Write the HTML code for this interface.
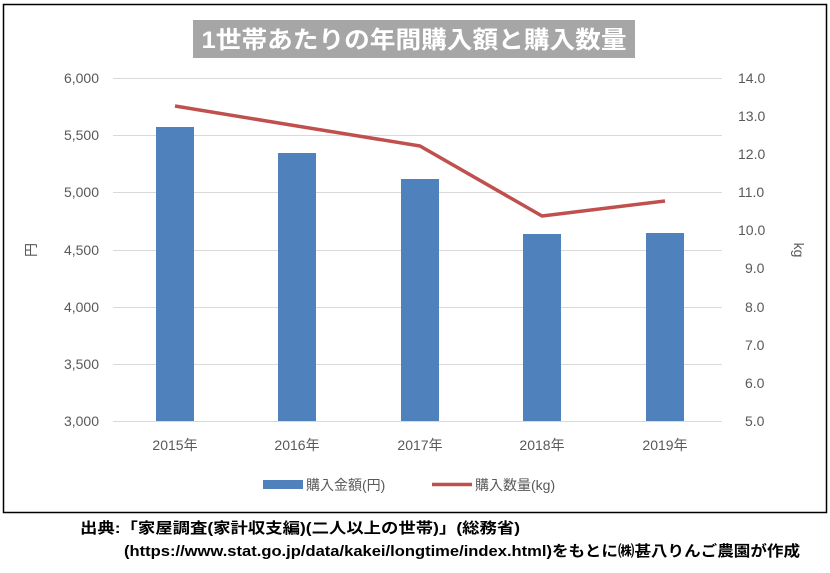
<!DOCTYPE html>
<html><head><meta charset="utf-8"><style>
body{margin:0;background:#fff;}
svg{display:block;font-family:"Liberation Sans","Noto Sans CJK JP",sans-serif;}
</style></head><body>
<svg width="830" height="573" xmlns="http://www.w3.org/2000/svg">
<rect x="3.5" y="4.5" width="823" height="508" fill="#fff" stroke="#000" stroke-width="1.5"/>
<rect x="193" y="20" width="442" height="38" fill="#a6a6a6"/>
<text x="414" y="48" text-anchor="middle" font-size="24" font-weight="bold" fill="#fff" textLength="425" lengthAdjust="spacingAndGlyphs">1世帯あたりの年間購入額と購入数量</text>
<g stroke="#d9d9d9" stroke-width="1">
<line x1="113" y1="78.5" x2="722" y2="78.5"/>
<line x1="113" y1="135.5" x2="722" y2="135.5"/>
<line x1="113" y1="192.5" x2="722" y2="192.5"/>
<line x1="113" y1="250.5" x2="722" y2="250.5"/>
<line x1="113" y1="307.5" x2="722" y2="307.5"/>
<line x1="113" y1="364.5" x2="722" y2="364.5"/>
<line x1="113" y1="421.5" x2="722" y2="421.5"/>
</g>
<g font-size="14" fill="#595959" text-anchor="end">
<text x="99" y="83">6,000</text><text x="99" y="140">5,500</text><text x="99" y="197">5,000</text>
<text x="99" y="255">4,500</text><text x="99" y="312">4,000</text><text x="99" y="369">3,500</text><text x="99" y="426">3,000</text>
</g>
<g font-size="14" fill="#595959" text-anchor="start">
<text x="738" y="83">14.0</text><text x="738" y="121">13.0</text><text x="738" y="159">12.0</text>
<text x="738" y="197">11.0</text><text x="738" y="235">10.0</text><text x="745" y="273">9.0</text>
<text x="745" y="312">8.0</text><text x="745" y="350">7.0</text><text x="745" y="388">6.0</text><text x="745" y="426">5.0</text>
</g>
<text transform="translate(36,250) rotate(-90)" text-anchor="middle" font-size="14" fill="#595959">円</text>
<text transform="translate(794,250) rotate(90)" text-anchor="middle" font-size="14" fill="#595959">kg</text>
<g fill="#4f81bd">
<rect x="156" y="127" width="38" height="294"/>
<rect x="278" y="153" width="38" height="268"/>
<rect x="401" y="179" width="38" height="242"/>
<rect x="523" y="234" width="38" height="187"/>
<rect x="646" y="233" width="38" height="188"/>
</g>
<polyline points="175,106 297,126 420,146 542,216 665,201" fill="none" stroke="#c0504d" stroke-width="3.5" stroke-linejoin="round"/>
<g font-size="14" fill="#595959" text-anchor="middle">
<text x="175" y="450">2015年</text><text x="297" y="450">2016年</text><text x="420" y="450">2017年</text>
<text x="542" y="450">2018年</text><text x="665" y="450">2019年</text>
</g>
<rect x="263" y="480" width="40" height="9" fill="#4f81bd"/>
<text x="306" y="490" font-size="14" fill="#595959">購入金額(円)</text>
<line x1="432" y1="484.5" x2="472" y2="484.5" stroke="#c0504d" stroke-width="3.5"/>
<text x="475" y="490" font-size="14" fill="#595959">購入数量(kg)</text>
<text x="80" y="533" font-size="15" font-weight="bold" fill="#000" textLength="440" lengthAdjust="spacingAndGlyphs">出典:「家屋調査(家計収支編)(二人以上の世帯)」(総務省)</text>
<text x="124" y="556" font-size="15" font-weight="bold" fill="#000" textLength="676" lengthAdjust="spacingAndGlyphs">(https://www.stat.go.jp/data/kakei/longtime/index.html)をもとに㈱甚八りんご農園が作成</text>
</svg>
</body></html>
